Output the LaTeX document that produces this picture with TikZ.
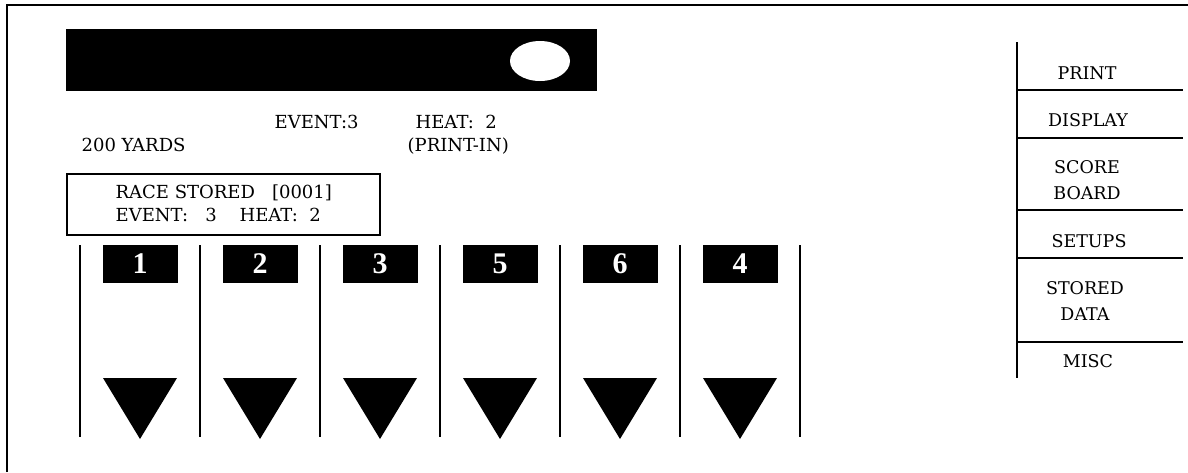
\documentclass[tikz,border=0pt]{standalone}
\usepackage{fontspec}
\setmainfont{DejaVu Serif}
\newfontfamily\lanefont{Liberation Serif}

\tikzset{
  screentext/.style={anchor=base west, inner sep=0pt, font=\fontsize{18}{23}\selectfont},
  menutext/.style={inner sep=0pt, align=center, font=\fontsize{17.5}{25.5}\selectfont},
  lanenum/.style={fill=black, text=white, minimum width=75pt, minimum height=38pt,
    inner sep=0pt, font=\lanefont\fontsize{30}{30}\selectfont\bfseries},
}

\begin{document}
\begin{tikzpicture}[x=1pt,y=-1pt,line width=1.3pt]
            \useasboundingbox (0,0) rectangle (1188,472);
            % screen frame
            \draw (7,472) -- (7,5) -- (1188,5);
            % title bar
            \fill (66,29) rectangle (597,91);
            \fill[white] (540,61) ellipse [x radius=30, y radius=20];
            % race info
            \node[screentext] (event) at (274,128) {EVENT:3};
            \node[screentext] (heat) at (415,128) {HEAT:\ \ 2};
            \node[screentext] (dist) at (81,151) {200 YARDS};
            \node[screentext] (mode) at (407,151) {(PRINT-IN)};
            \draw (67,174) rectangle (380,235);
            \node[screentext] (stored) at (115,198) {RACE STORED\hspace{17pt}[0001]};
            \node[screentext] (storedheat) at (115,221) {EVENT:\ \ \ 3\ \ \ \ HEAT:\ \ 2};
            % lanes
            \foreach \k/\n in {0/1,1/2,2/3,3/5,4/6,5/4} {
                \node[lanenum] (lane\n) at (140+120*\k,264) {\n};
                \fill (103+120*\k,378) -- (177+120*\k,378) -- (140+120*\k,439) -- cycle;
            }
            \foreach \k in {0,...,6}
                \draw (80+120*\k,245) -- (80+120*\k,437);
            % menu
            \draw (1017,42) -- (1017,378);
            \foreach \y in {90,138,210,258,342}
                \draw (1017,\y) -- (1183,\y);
            \node[menutext] (print) at (1087,73) {PRINT};
            \node[menutext] (display) at (1088,120) {DISPLAY};
            \node[menutext] (score) at (1087,180) {SCORE\\BOARD};
            \node[menutext] (setups) at (1089,241) {SETUPS};
            \node[menutext] (data) at (1085,301) {STORED\\DATA};
            \node[menutext] (misc) at (1088,361) {MISC};
\end{tikzpicture}
\end{document}
